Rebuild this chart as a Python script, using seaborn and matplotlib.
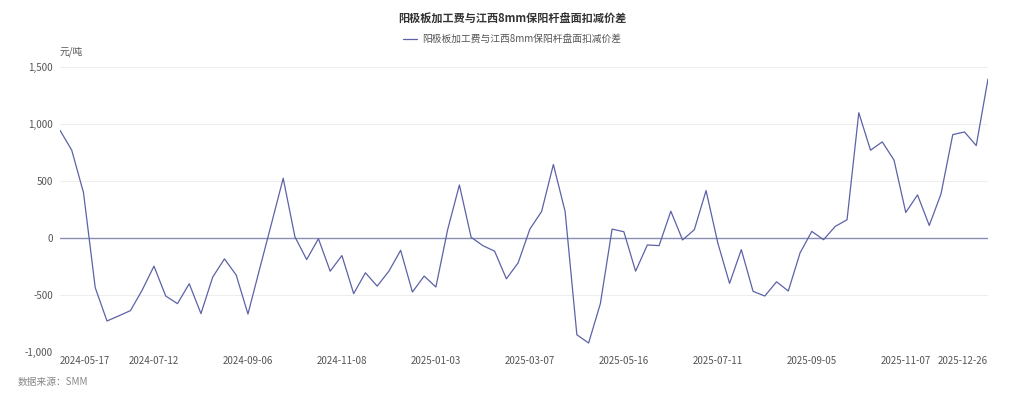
import numpy as np
import pandas as pd
import matplotlib
matplotlib.use("Agg")
import matplotlib.pyplot as plt
import seaborn as sns

# weekly dates, holiday weeks with no quote left out
all_weeks = pd.date_range("2024-05-17", "2025-12-26", freq="7D")
missing_weeks = ["2024-10-04", "2025-01-31", "2025-04-04", "2025-05-02", "2025-10-03"]
dates = [d.strftime("%Y-%m-%d") for d in all_weeks if d.strftime("%Y-%m-%d") not in missing_weeks]

spread = [
    945, 770, 398, -436, -728, -683, -637, -456, -247, -509,
    -576, -401, -663, -343, -183, -325, -667, -269, 125, 524,
    10, -189, -6, -291, -154, -488, -305, -422, -291, -108,
    -474, -334, -430, 73, 465, 6, -67, -116, -358, -218,
    78, 233, 645, 233, -849, -921, -576, 78, 55, -291,
    -61, -67, 235, -17, 73, 416, -44, -398, -102, -468,
    -509, -384, -465, -131, 58, -15, 102, 160, 1099, 770,
    843, 683, 224, 378, 110, 387, 907, 930, 811, 1395,
]

label_dates = ["2024-05-17", "2024-07-12", "2024-09-06", "2024-11-08", "2025-01-03",
               "2025-03-07", "2025-05-16", "2025-07-11", "2025-09-05", "2025-11-07",
               "2025-12-26"]
y_ticks = [-1000, -500, 0, 500, 1000, 1500]

series_name = "阳极板加工费与江西8mm保阳杆盘面扣减价差"
line_color = "#5c62a6"

sns.set_style("white")
plt.rcParams["font.family"] = ["Noto Sans CJK SC", "DejaVu Sans"]

df = pd.DataFrame({"date": dates, "spread": spread})
df["pos"] = np.arange(len(df))

fig = plt.figure(figsize=(10.24, 3.99), dpi=100)
ax = fig.add_axes([60 / 1024, 1 - 352 / 399, 928 / 1024, 285 / 399])

for v in y_ticks:
    if v != 0:
        ax.axhline(v, color="#eeeeee", lw=0.8, zorder=0)
ax.axhline(0, color="#8a8fb4", lw=1.0, zorder=1)

sns.lineplot(data=df, x="pos", y="spread", ax=ax, color=line_color, lw=0.9,
             label=series_name, legend=False, zorder=3)

ax.set_xlim(0, len(df) - 1)
ax.set_ylim(-1000, 1500)
ax.set_yticks(y_ticks)
ax.set_yticklabels([f"{v:,}" for v in y_ticks])

tick_pos = [dates.index(d) for d in label_dates]
ax.set_xticks(tick_pos)
ax.set_xticklabels(label_dates)
xl = ax.get_xticklabels()
xl[0].set_ha("left")
xl[-1].set_ha("right")

ax.tick_params(axis="both", length=0, labelsize=7, labelcolor="#555555")
ax.tick_params(axis="x", pad=3)
ax.tick_params(axis="y", pad=5)
ax.set_xlabel("")
ax.set_ylabel("")
for s in ax.spines.values():
    s.set_visible(False)

fig.text(0.5, 1 - 19 / 399, series_name, ha="center", va="center",
         fontsize=8, fontweight="bold", color="#333333")
handles, labels = ax.get_legend_handles_labels()
fig.legend(handles, labels, loc="center", bbox_to_anchor=(0.5, 1 - 39 / 399),
           frameon=False, fontsize=7, handlelength=1.4, handletextpad=0.5,
           labelcolor="#555555")
fig.text(60 / 1024, 1 - 52 / 399, "元/吨", ha="left", va="center",
         fontsize=7, color="#555555")
fig.text(18 / 1024, 1 - 382 / 399, "数据来源：SMM", ha="left", va="center",
         fontsize=7, color="#888888", style="italic")

fig.savefig("out.png", dpi=100)
